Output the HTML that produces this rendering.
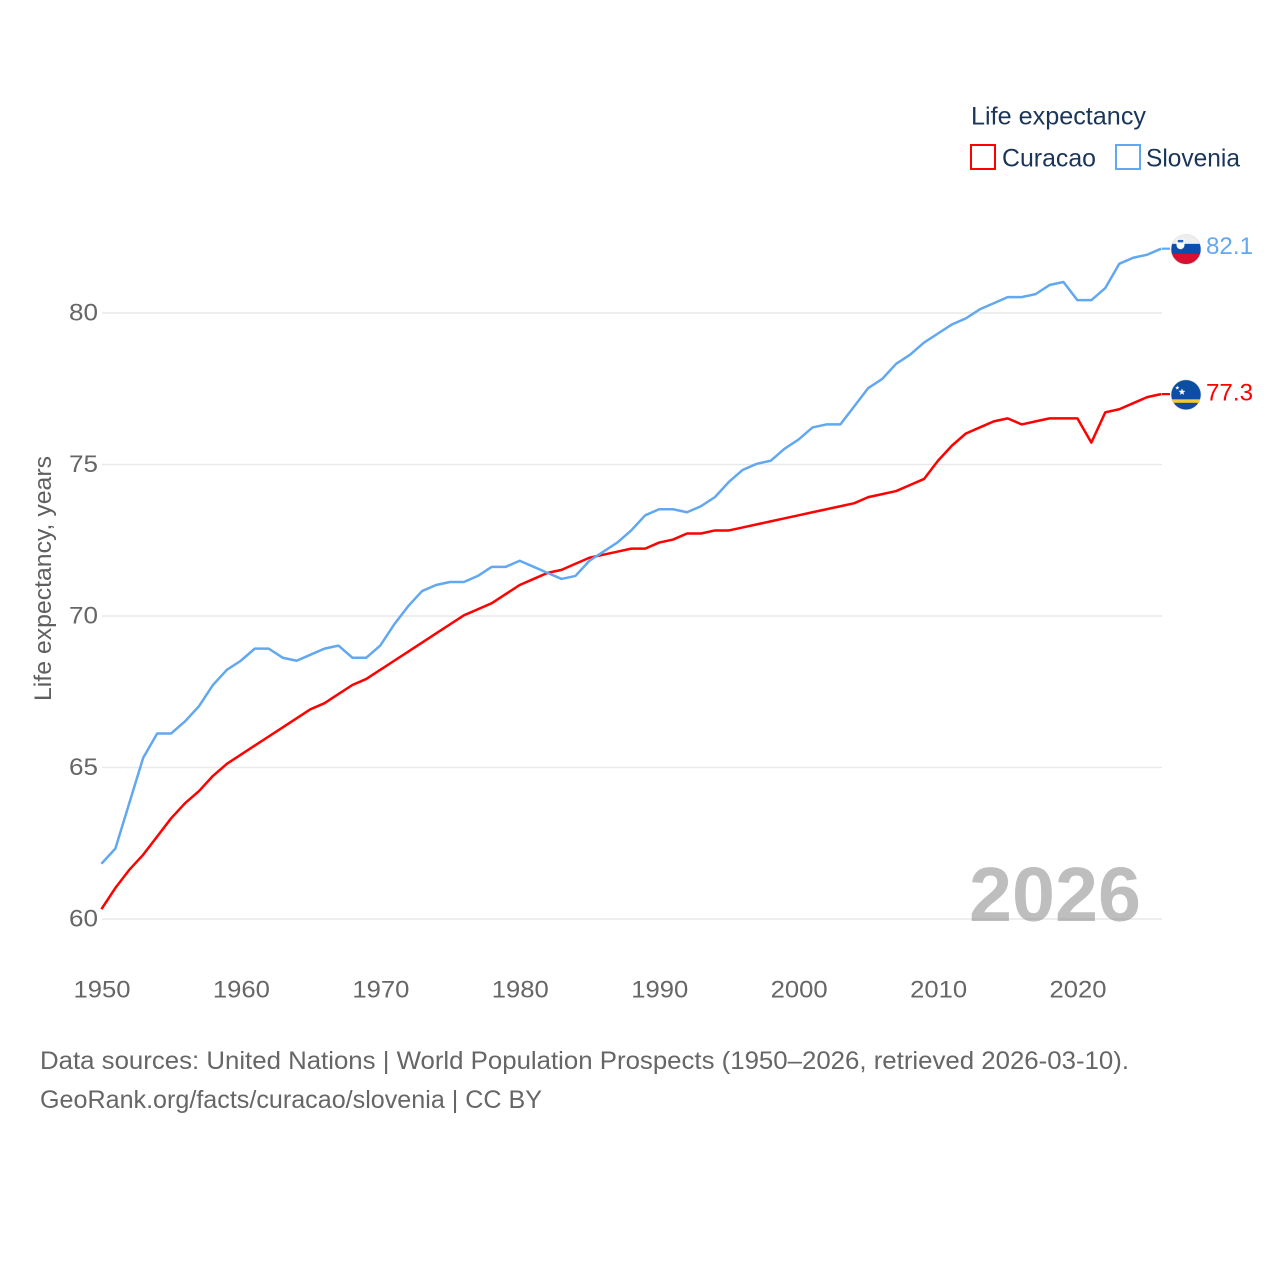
<!DOCTYPE html>
<html>
<head>
<meta charset="utf-8">
<title>Life expectancy: Curacao and Slovenia</title>
<style>
html,body{margin:0;padding:0;background:#fff;}
svg{display:block;}
text{font-family:"Liberation Sans",sans-serif;}
</style>
</head>
<body>
<svg id="chart" xmlns="http://www.w3.org/2000/svg" width="1280" height="1280" viewBox="0 0 1280 1280">
  <rect x="0" y="0" width="1280" height="1280" fill="#ffffff"/>
  <g id="grid"></g>
  <g id="yticks"></g>
  <g id="xticks"></g>
  <text transform="translate(51,701) rotate(-90)" font-size="24" fill="#5f5f5f" textLength="245" lengthAdjust="spacingAndGlyphs">Life expectancy, years</text>
  <text x="969" y="921" font-size="77" font-weight="700" fill="#7e7e7e" fill-opacity="0.5" textLength="172" lengthAdjust="spacingAndGlyphs">2026</text>
  <g id="series" transform="translate(-0.6,-0.7)"></g>
  <g id="flags"></g>
  <g>
    <text x="971" y="124.500" font-size="25" fill="#1a3558" textLength="175" lengthAdjust="spacingAndGlyphs">Life expectancy</text>
    <g>
      <rect x="971" y="145" width="24" height="24" fill="none" stroke="#ff0000" stroke-width="2"/>
      <text x="1002" y="166.500" font-size="25" fill="#1a3558" textLength="94" lengthAdjust="spacingAndGlyphs">Curacao</text>
    </g>
    <g>
      <rect x="1116" y="145" width="24" height="24" fill="none" stroke="#62a8f0" stroke-width="2"/>
      <text x="1146" y="166.500" font-size="25" fill="#1a3558" textLength="94" lengthAdjust="spacingAndGlyphs">Slovenia</text>
    </g>
  </g>
  <text x="40" y="1069" font-size="25" fill="#666666" textLength="1089" lengthAdjust="spacingAndGlyphs">Data sources: United Nations | World Population Prospects (1950–2026, retrieved 2026-03-10).</text>
  <text x="40" y="1108" font-size="25" fill="#666666" textLength="502" lengthAdjust="spacingAndGlyphs">GeoRank.org/facts/curacao/slovenia | CC BY</text>
</svg>
<script>
const years = [1950,1951,1952,1953,1954,1955,1956,1957,1958,1959,1960,1961,1962,1963,1964,1965,1966,1967,1968,1969,1970,1971,1972,1973,1974,1975,1976,1977,1978,1979,1980,1981,1982,1983,1984,1985,1986,1987,1988,1989,1990,1991,1992,1993,1994,1995,1996,1997,1998,1999,2000,2001,2002,2003,2004,2005,2006,2007,2008,2009,2010,2011,2012,2013,2014,2015,2016,2017,2018,2019,2020,2021,2022,2023,2024,2025,2026];
const curacao = [60.3,61.0,61.6,62.1,62.7,63.3,63.8,64.2,64.7,65.1,65.4,65.7,66.0,66.3,66.6,66.9,67.1,67.4,67.7,67.9,68.2,68.5,68.8,69.1,69.4,69.7,70.0,70.2,70.4,70.7,71.0,71.2,71.4,71.5,71.7,71.9,72.0,72.1,72.2,72.2,72.4,72.5,72.7,72.7,72.8,72.8,72.9,73.0,73.1,73.2,73.3,73.4,73.5,73.6,73.7,73.9,74.0,74.1,74.3,74.5,75.1,75.6,76.0,76.2,76.4,76.5,76.3,76.4,76.5,76.5,76.5,75.7,76.7,76.8,77.0,77.2,77.3];
const slovenia = [61.8,62.3,63.8,65.3,66.1,66.1,66.5,67.0,67.7,68.2,68.5,68.9,68.9,68.6,68.5,68.7,68.9,69.0,68.6,68.6,69.0,69.7,70.3,70.8,71.0,71.1,71.1,71.3,71.6,71.6,71.8,71.6,71.4,71.2,71.3,71.8,72.1,72.4,72.8,73.3,73.5,73.5,73.4,73.6,73.9,74.4,74.8,75.0,75.1,75.5,75.8,76.2,76.3,76.3,76.9,77.5,77.8,78.3,78.6,79.0,79.3,79.6,79.8,80.1,80.3,80.5,80.5,80.6,80.9,81.0,80.4,80.4,80.8,81.6,81.8,81.9,82.1];
const yTickValues = [60,65,70,75,80];
const xTickValues = [1950,1960,1970,1980,1990,2000,2010,2020];

const NS = 'http://www.w3.org/2000/svg';
function xScale(year){ return 102 + (year - 1950) * 13.943; }
function yScale(value){ return 919 - (value - 60) * 30.3; }
function make(parent, tag, attrs){
  const el = document.createElementNS(NS, tag);
  for (const k in attrs) el.setAttribute(k, attrs[k]);
  parent.appendChild(el);
  return el;
}
const gridG = document.getElementById('grid');
const yG = document.getElementById('yticks');
const xG = document.getElementById('xticks');
const seriesG = document.getElementById('series');
const flagsG = document.getElementById('flags');

yTickValues.forEach(function(v){
  const ln = make(gridG, 'line', {x1:102, x2:1162, y1:yScale(v), y2:yScale(v), stroke:'#e9e9e9', 'stroke-width':1.6});
  
  
  const t = make(yG, 'text', {x:69, y:yScale(v)+7.5, 'font-size':24.5, fill:'#666666', textLength:29, lengthAdjust:'spacingAndGlyphs'});
  
  
  t.textContent = String(v);
});
xTickValues.forEach(function(v){
  const t = make(xG, 'text', {x:xScale(v), y:997.5, 'text-anchor':'middle', 'font-size':24.5, fill:'#666666', textLength:57, lengthAdjust:'spacingAndGlyphs'});
  
  
  t.textContent = String(v);
});

function pathFor(vals){
  return vals.map(function(v,i){ return (i ? 'L' : 'M') + xScale(years[i]).toFixed(2) + ' ' + yScale(v).toFixed(2); }).join(' ');
}
const lineCur = make(seriesG, 'path', {d:pathFor(curacao), fill:'none', stroke:'#ff0000', 'stroke-width':2.5, 'stroke-linejoin':'round'});


const lineSlo = make(seriesG, 'path', {d:pathFor(slovenia), fill:'none', stroke:'#62a8f0', 'stroke-width':2.5, 'stroke-linejoin':'round'});



const cx = 1186;
const last = years[years.length-1];
const lastCur = curacao[curacao.length-1];
const lastSlo = slovenia[slovenia.length-1];
const yCur = yScale(lastCur);
const ySlo = yScale(lastSlo);

const connCur = make(flagsG, 'line', {x1:xScale(last), x2:1170, y1:yCur-0.7, y2:yCur-0.7, stroke:'#ff0000', 'stroke-width':2.2});


const connSlo = make(flagsG, 'line', {x1:xScale(last), x2:1170, y1:ySlo-0.7, y2:ySlo-0.7, stroke:'#62a8f0', 'stroke-width':2.2});



const defs = make(flagsG, 'defs', {});
const clipS = make(defs, 'clipPath', {id:'clip-slo'});
make(clipS, 'circle', {cx:cx, cy:ySlo, r:15});
const clipC = make(defs, 'clipPath', {id:'clip-cur'});
make(clipC, 'circle', {cx:cx, cy:yCur, r:15});

/* Slovenia flag */
const fs = make(flagsG, 'g', {'clip-path':'url(#clip-slo)'});


make(fs, 'rect', {x:cx-15, y:ySlo-15, width:30, height:10, fill:'#eeeeee'});
make(fs, 'rect', {x:cx-15, y:ySlo-5.5, width:30, height:10.5, fill:'#0a4fb0'});
make(fs, 'rect', {x:cx-15, y:ySlo+4.5, width:30, height:11, fill:'#d9102f'});
make(fs, 'path', {d:'M'+(cx-9.5)+' '+(ySlo-10.5)+' h8 v6 q0 3.500 -4 4.500 q-4 -1 -4 -4.500 z', fill:'#ffffff'});
make(fs, 'path', {d:'M'+(cx-8.3)+' '+(ySlo-9.5)+' h5.600 v2.500 h-5.600 z', fill:'#2a62bb'});

/* Curacao flag */
const fc = make(flagsG, 'g', {'clip-path':'url(#clip-cur)'});


make(fc, 'rect', {x:cx-15, y:yCur-15, width:30, height:30, fill:'#0b4ea2'});
make(fc, 'rect', {x:cx-15, y:yCur+4.5, width:30, height:3.5, fill:'#f5c92f'});
function star(g, sx, sy, r){
  let d = '';
  for (let i = 0; i < 10; i++){
    const a = -Math.PI/2 + i*Math.PI/5;
    const rr = i % 2 ? r*0.42 : r;
    d += (i ? 'L' : 'M') + (sx + rr*Math.cos(a)).toFixed(2) + ' ' + (sy + rr*Math.sin(a)).toFixed(2) + ' ';
  }
  make(g, 'path', {d:d+'Z', fill:'#ffffff'});
}
star(fc, cx-8.7, yCur-7, 2.2);
star(fc, cx-4, yCur-2.800, 3.6);

const ringS = make(flagsG, 'circle', {cx:cx, cy:ySlo, r:15, fill:'none', stroke:'#dddddd', 'stroke-width':0.6});


const ringC = make(flagsG, 'circle', {cx:cx, cy:yCur, r:15, fill:'none', stroke:'#dddddd', 'stroke-width':0.6});



const valS = make(flagsG, 'text', {x:1206, y:ySlo+4.5, 'font-size':24.5, fill:'#62a8f0', textLength:47, lengthAdjust:'spacingAndGlyphs'});


valS.textContent = lastSlo.toFixed(1);
const valC = make(flagsG, 'text', {x:1206, y:yCur+5.5, 'font-size':24.5, fill:'#ff0000', textLength:47, lengthAdjust:'spacingAndGlyphs'});


valC.textContent = lastCur.toFixed(1);
</script>
</body>
</html>
